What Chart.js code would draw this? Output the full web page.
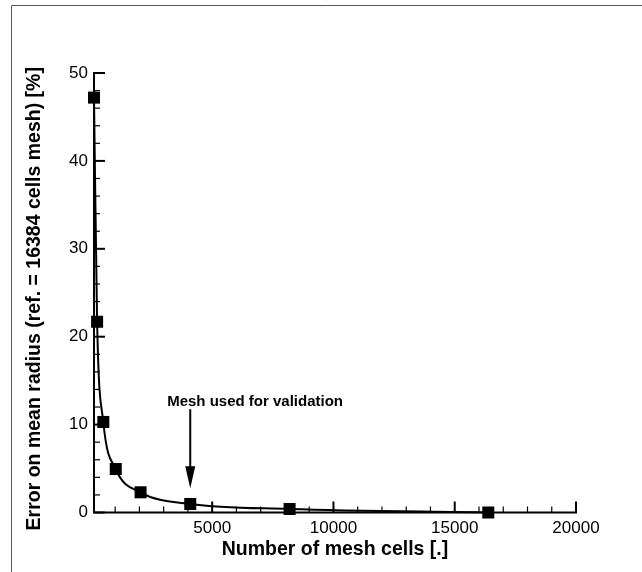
<!DOCTYPE html>
<html><head><meta charset="utf-8">
<script src="https://cdn.jsdelivr.net/npm/chart.js@4"></script>
<style>html,body{margin:0;padding:0;background:#fff}#wrap{width:642px;height:572px;position:relative}canvas{display:block}</style>
</head><body><div id="wrap"><canvas id="c" width="642" height="572"></canvas></div>
<script>
// ---- data ----
const meshCells = [128, 256, 512, 1024, 2048, 4096, 8192, 16384];
const errorPct  = [47.2, 21.7, 10.3, 4.95, 2.3, 0.97, 0.4, 0.0];
const xTickLabels = [5000, 10000, 15000, 20000];
const yTickLabels = [0, 10, 20, 30, 40, 50];
const xRange = [128, 20000];
const yRange = [0, 50];
const xMinorStep = 1000;
const yMinorStep = 2;
const xTitle = 'Number of mesh cells [.]';
const yTitle = 'Error on mean radius (ref. = 16384 cells mesh) [%]';
const annotationText = 'Mesh used for validation';
const annotationArrow = {x: 4096, from: 11.75, to: 2.76};
const annotationLabel = {x: 6770, y: 12.13};

const FAM = '"Liberation Sans", Arial, Helvetica, sans-serif';

const framePlugin = {
  id: 'frame',
  beforeDraw(chart) {
    const ctx = chart.ctx;
    ctx.save();
    ctx.strokeStyle = '#555';
    ctx.lineWidth = 1;
    ctx.beginPath();
    ctx.moveTo(642, 5.5);
    ctx.lineTo(11.5, 5.5);
    ctx.lineTo(11.5, 572);
    ctx.stroke();
    ctx.restore();
  }
};

const yTitlePlugin = {
  id: 'yTitle',
  afterDraw(chart) {
    const ctx = chart.ctx;
    const ca = chart.chartArea;
    ctx.save();
    ctx.translate(34.4, (ca.top + ca.bottom) / 2 + 6);
    ctx.rotate(-Math.PI / 2);
    ctx.fillStyle = '#000';
    ctx.font = 'bold 19.5px ' + FAM;
    ctx.textAlign = 'center';
    ctx.textBaseline = 'middle';
    ctx.fillText(yTitle, 0, 0);
    ctx.restore();
  }
};

const axesPlugin = {
  id: 'axesInward',
  beforeDatasetsDraw(chart) {
    const ctx = chart.ctx;
    const xs = chart.scales.x, ys = chart.scales.y;
    const xl = xs.getPixelForValue(xRange[0]);
    const xr = xs.getPixelForValue(xRange[1]);
    const yb = ys.getPixelForValue(yRange[0]);
    const yt = ys.getPixelForValue(yRange[1]);
    ctx.save();
    ctx.strokeStyle = '#000';
    ctx.lineCap = 'butt';
    ctx.lineWidth = 2;
    ctx.beginPath();
    ctx.moveTo(xl, yt - 1);
    ctx.lineTo(xl, yb);
    ctx.lineTo(xr + 1, yb);
    ctx.stroke();
    for (let v = yRange[0]; v <= yRange[1] + 1e-9; v += yMinorStep) {
      const major = yTickLabels.includes(v);
      const py = ys.getPixelForValue(v);
      ctx.lineWidth = major ? 2 : 1.2;
      ctx.beginPath();
      ctx.moveTo(xl, py);
      ctx.lineTo(xl + (major ? 11 : 6), py);
      ctx.stroke();
    }
    for (let v = xMinorStep; v <= xRange[1] + 1e-9; v += xMinorStep) {
      const major = xTickLabels.includes(v);
      const px = xs.getPixelForValue(v);
      ctx.lineWidth = major ? 2 : 1.2;
      ctx.beginPath();
      ctx.moveTo(px, yb);
      ctx.lineTo(px, yb - (major ? 11 : 6));
      ctx.stroke();
    }
    ctx.restore();
  },
  afterDatasetsDraw(chart) {
    const ctx = chart.ctx;
    const xs = chart.scales.x, ys = chart.scales.y;
    ctx.save();
    ctx.fillStyle = '#000';
    ctx.font = 'bold 15px ' + FAM;
    ctx.textAlign = 'center';
    ctx.textBaseline = 'alphabetic';
    ctx.fillText(annotationText, xs.getPixelForValue(annotationLabel.x), ys.getPixelForValue(annotationLabel.y));
    const ax = xs.getPixelForValue(annotationArrow.x);
    const a0 = ys.getPixelForValue(annotationArrow.from);
    const a1 = ys.getPixelForValue(annotationArrow.to);
    ctx.strokeStyle = '#000';
    ctx.lineWidth = 2;
    ctx.beginPath();
    ctx.moveTo(ax, a0);
    ctx.lineTo(ax, a1 - 18);
    ctx.stroke();
    ctx.beginPath();
    ctx.moveTo(ax - 5, a1 - 22);
    ctx.lineTo(ax + 5, a1 - 22);
    ctx.lineTo(ax, a1);
    ctx.closePath();
    ctx.fill();
    ctx.restore();
  }
};

new Chart(document.getElementById('c'), {
  type: 'line',
  data: {
    datasets: [{
      data: meshCells.map((x, i) => ({x: x, y: errorPct[i]})),
      borderColor: '#000',
      borderWidth: 2,
      cubicInterpolationMode: 'monotone',
      fill: false,
      pointStyle: 'rect',
      pointRadius: 8.5,
      pointHoverRadius: 8.5,
      pointBackgroundColor: '#000',
      pointBorderWidth: 0,
      clip: false
    }]
  },
  options: {
    responsive: false,
    animation: false,
    devicePixelRatio: 1,
    layout: {padding: {top: 73, right: 66, left: 0, bottom: 0}},
    plugins: {legend: {display: false}, tooltip: {enabled: false}},
    scales: {
      x: {
        type: 'linear',
        min: xRange[0], max: xRange[1],
        afterBuildTicks: s => { s.ticks = xTickLabels.map(v => ({value: v})); },
        afterFit: s => { s.height = 59.5; },
        grid: {display: false, drawTicks: false},
        border: {display: false},
        ticks: {padding: 6, color: '#000', autoSkip: false, maxRotation: 0,
                font: {family: FAM, size: 17}, callback: v => String(v)},
        title: {display: true, text: xTitle, color: '#000',
                font: {family: FAM, size: 19.5, weight: 'bold'}, padding: {top: 0, bottom: 10.5}}
      },
      y: {
        type: 'linear',
        min: yRange[0], max: yRange[1],
        afterBuildTicks: s => { s.ticks = yTickLabels.map(v => ({value: v})); },
        afterFit: s => { s.width = 94; },
        grid: {display: false, drawTicks: false},
        border: {display: false},
        ticks: {padding: 6, color: '#000', autoSkip: false,
                font: {family: FAM, size: 17}, callback: v => String(v)},
        title: {display: false}
      }
    }
  },
  plugins: [framePlugin, axesPlugin, yTitlePlugin]
});
</script>
</body></html>
